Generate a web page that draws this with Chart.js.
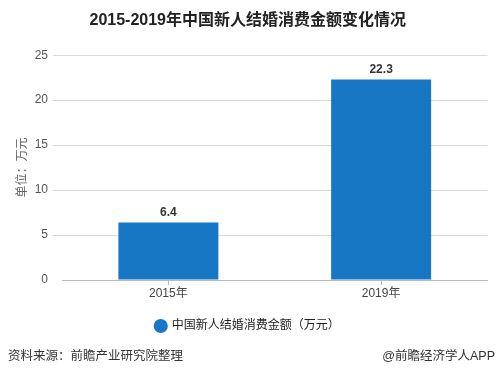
<!DOCTYPE html>
<html>
<head>
<meta charset="utf-8">
<script src="https://cdn.jsdelivr.net/npm/chart.js@4/dist/chart.umd.min.js"></script>
<style>
  html, body { margin: 0; padding: 0; background: #fff; }
  #wrap { width: 499px; height: 375px; position: relative; }
</style>
</head>
<body>
<div id="wrap"><canvas id="chart" width="499" height="375"></canvas></div>
<script>
// data
const years = ['2015年', '2019年'];
const spending = [6.4, 22.3];
const seriesName = '中国新人结婚消费金额（万元）';
const yTicks = [0, 5, 10, 15, 20, 25];

const FONT = '"Liberation Sans", "Noto Sans CJK SC", sans-serif';

// value labels over the bars
const barLabels = {
    id: 'barLabels',
    afterDatasetsDraw(chart) {
        const ctx = chart.ctx;
        const meta = chart.getDatasetMeta(0);
        ctx.save();
        ctx.font = 'bold 12px ' + FONT;
        ctx.fillStyle = '#333';
        ctx.textAlign = 'center';
        ctx.textBaseline = 'bottom';
        meta.data.forEach((bar, i) => {
            ctx.fillText(spending[i].toFixed(1), bar.x, bar.y - 4);
        });
        ctx.restore();
    }
};

// source line at the bottom
const footer = {
    id: 'footer',
    afterDraw(chart) {
        const ctx = chart.ctx;
        ctx.save();
        ctx.font = '12.5px ' + FONT;
        ctx.fillStyle = '#333';
        ctx.textBaseline = 'middle';
        ctx.textAlign = 'left';
        ctx.fillText('资料来源：前瞻产业研究院整理', 8, 357);
        ctx.textAlign = 'right';
        ctx.fillText('@前瞻经济学人APP', 495, 357);
        ctx.restore();
    }
};

new Chart(document.getElementById('chart'), {
    type: 'bar',
    data: {
        labels: years,
        datasets: [{
            label: seriesName,
            data: spending,
            backgroundColor: '#1777c4',
            barPercentage: 0.94,
            categoryPercentage: 0.5
        }]
    },
    options: {
        responsive: false,
        animation: false,
        layout: { padding: { left: 8, right: 11.5, top: 0, bottom: 33 } },
        plugins: {
            title: {
                display: true,
                text: '2015-2019年中国新人结婚消费金额变化情况',
                color: '#222',
                font: { family: FONT, size: 16, weight: 'bold' },
                padding: { top: 11, bottom: 25 }
            },
            legend: {
                position: 'bottom',
                labels: {
                    usePointStyle: true,
                    pointStyle: 'circle',
                    boxWidth: 10,
                    boxHeight: 10,
                    color: '#222',
                    font: { family: FONT, size: 12 },
                    padding: 13
                }
            },
            tooltip: { enabled: false }
        },
        scales: {
            x: {
                grid: { display: true, drawOnChartArea: false, offset: false, tickLength: 5, color: '#bbb' },
                border: { color: '#bbb' },
                ticks: { color: '#444', font: { family: FONT, size: 12 }, padding: 1 },
                afterFit(scale) { scale.height = 27; }
            },
            y: {
                min: 0,
                max: 25,
                afterBuildTicks(scale) { scale.ticks = yTicks.map(v => ({ value: v })); },
                grid: {
                    color: ctx => ctx.tick && ctx.tick.value === 0 ? '#bbb' : '#d9d9d9',
                    tickColor: ctx => ctx.tick && ctx.tick.value === 0 ? 'rgba(0,0,0,0)' : '#d9d9d9',
                    tickLength: 9
                },
                border: { display: false },
                ticks: { color: '#555', font: { family: FONT, size: 12 }, padding: 5 },
                title: {
                    display: true,
                    text: '单位：万元',
                    color: '#666',
                    font: { family: FONT, size: 12 },
                    padding: { top: 7, bottom: 1 }
                },
                afterFit(scale) { scale.width = 54; }
            }
        }
    },
    plugins: [barLabels, footer]
});
</script>
</body>
</html>
